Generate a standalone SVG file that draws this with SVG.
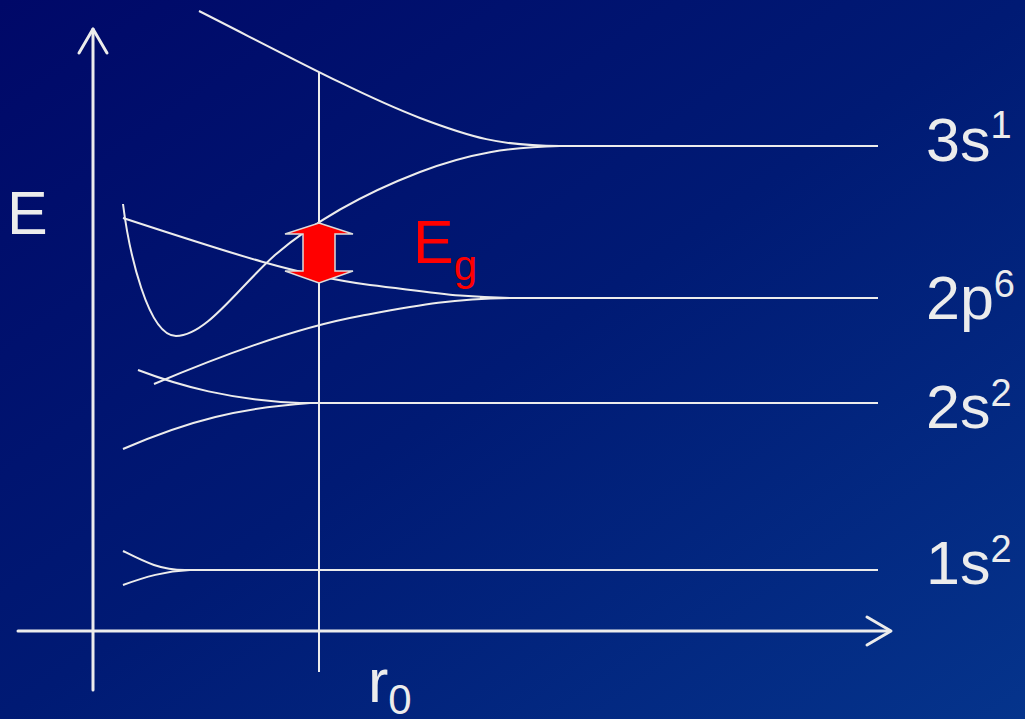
<svg xmlns="http://www.w3.org/2000/svg" width="1025" height="719" viewBox="0 0 1025 719">
<defs>
<linearGradient id="bg" x1="0" y1="0" x2="1" y2="1">
<stop offset="0" stop-color="#000868"/>
<stop offset="0.5" stop-color="#001a74"/>
<stop offset="1" stop-color="#05348c"/>
</linearGradient>
<style>
.ln{fill:none;stroke:#ececec;stroke-width:2;stroke-linecap:butt}
.ax{fill:none;stroke:#ececec;stroke-width:3;stroke-linecap:round;stroke-linejoin:round}
.lbl{font-family:"Liberation Sans",Arial,sans-serif;fill:#ececec;font-size:61px}
.sup{font-size:38px}
.red{fill:#ff0000}
</style>
</defs>
<rect width="1025" height="719" fill="url(#bg)"/>
<g id="axes">
<line class="ax" x1="93" y1="690" x2="93" y2="29"/>
<polyline class="ax" points="79,53 93,29 107,53"/>
<line class="ax" x1="18" y1="631" x2="890" y2="631"/>
<polyline class="ax" points="867,617 891,631 867,645"/>
<line class="ln" x1="319" y1="72" x2="319" y2="672"/>
</g>
<g id="connectors">
<path class="ln" d="M199,11 C280,52 360,95 420,118 C470,137 500,146 560,146 L878,146"/>
<path class="ln" d="M123,204 C129,252 148,336 176,336 C206,336 238,288 275,255 C310,225 360,195 420,172 C470,153 510,147 560,146"/>
<path class="ln" d="M123,218 C230,253 300,276 370,285 C430,292 460,298 520,298"/>
<path class="ln" d="M154,384 C220,356 300,327 360,316 C420,305 450,299 510,298"/>
<line class="ln" x1="480" y1="298" x2="878" y2="298"/>
<path class="ln" d="M138,370 C180,386 230,400 300,403"/>
<path class="ln" d="M123,449 C190,420 240,408 310,403"/>
<line class="ln" x1="295" y1="403" x2="878" y2="403"/>
<path class="ln" d="M123,551 C145,562 160,570 185,570"/>
<path class="ln" d="M123,585 C145,577 165,571 190,570"/>
<line class="ln" x1="180" y1="570" x2="878" y2="570"/>
</g>
<g id="gap-arrow">
<polygon points="319,223 353,234 335,234 335,271 353,271 319,283 285,271 303,271 303,234 285,234" fill="#ff0000" stroke="#dcdcdc" stroke-width="1.5" stroke-linejoin="miter"/>
</g>
<g id="labels">
<text class="lbl" x="7" y="234">E</text>
<text class="lbl" x="368" y="702">r<tspan font-size="42" y="714">0</tspan></text>
<text class="lbl red" x="413" y="263">E<tspan font-size="42" y="280">g</tspan></text>
<text class="lbl" x="926" y="161">3s<tspan class="sup" y="138">1</tspan></text>
<text class="lbl" x="926" y="319">2p<tspan class="sup" y="297">6</tspan></text>
<text class="lbl" x="926" y="428">2s<tspan class="sup" y="406">2</tspan></text>
<text class="lbl" x="926" y="584">1s<tspan class="sup" y="562">2</tspan></text>
</g>
</svg>
